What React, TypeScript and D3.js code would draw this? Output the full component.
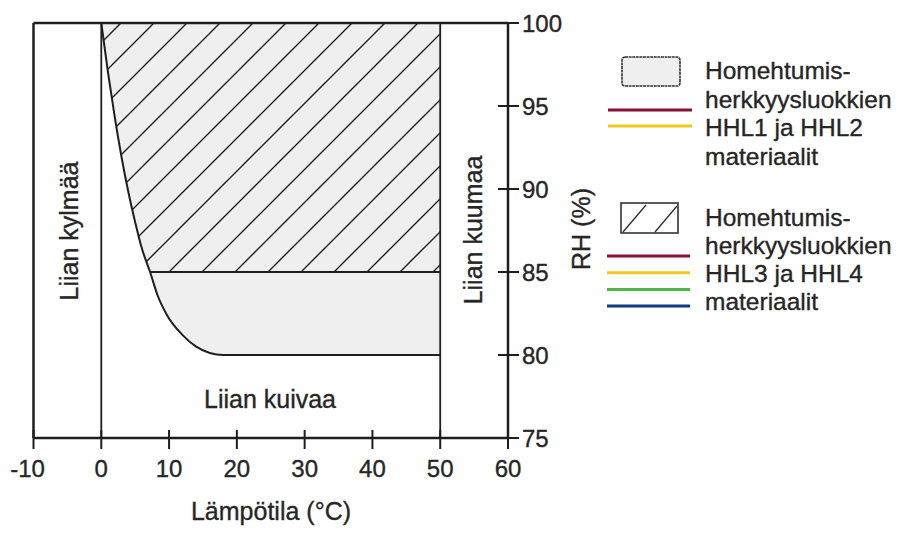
import React from "react";
import * as d3 from "d3";

const xTicks = [-10, 0, 10, 20, 30, 40, 50, 60];
const yTicks = [75, 80, 85, 90, 95, 100];
// critical RH curve (temperature °C, RH %)
const curveT = [0, 1, 2, 3, 4, 5, 6, 7.2, 8.3, 9.7, 12, 14, 16, 18, 50];
const curveRH = [100, 97, 94.3, 91.9, 89.8, 88, 86.4, 85, 83.6, 82.4, 81.2, 80.5, 80.12, 80, 80];
const tMin = 0;
const tMax = 50;
const rhSensitive = 85; // HHL3/HHL4 limit
const legendLines1 = ["#8a0f3a", "#f0c820"];
const legendLines2 = ["#8a0f3a", "#f0c820", "#4cb848", "#0c3a80"];
const legendText1 = ["Homehtumis-", "herkkyysluokkien", "HHL1 ja HHL2", "materiaalit"];
const legendText2 = ["Homehtumis-", "herkkyysluokkien", "HHL3 ja HHL4", "materiaalit"];

const FONT = "'Liberation Sans', Arial, sans-serif";
const INK = "#1e1e1e";
const TXT = "#262626";
const FILL = "#efefef";

export default function App() {
  const x = d3.scaleLinear().domain([-10, 60]).range([33.5, 508]);
  const y = d3.scaleLinear().domain([75, 100]).range([438, 23]);
  const pts: [number, number][] = curveT.map((t, i) => [t, curveRH[i]]);
  const line = d3
    .line<[number, number]>()
    .x((d) => x(d[0]))
    .y((d) => y(d[1]))
    .curve(d3.curveMonotoneX);
  const curvePath = line(pts) as string;
  const areaPath = curvePath + `L${x(tMax)},${y(100)}L${x(tMin)},${y(100)}Z`;
  const tp = { fill: TXT, stroke: TXT, strokeWidth: 0.35 };

  return (
    <svg width={915} height={533} style={{ position: "absolute", left: 0, top: 0, background: "#fff" }} fontFamily={FONT}>
      <defs>
        <pattern id="hatch" patternUnits="userSpaceOnUse" width={33} height={33} x={12} y={0}>
          <path d="M-1,34 L34,-1 M-9,9 L9,-9 M24,42 L42,24" stroke={INK} strokeWidth={1.4} />
        </pattern>
        <clipPath id="upper">
          <rect x={0} y={y(100)} width={915} height={y(rhSensitive) - y(100)} />
        </clipPath>
      </defs>
      <rect x={0} y={0} width={915} height={533} fill="#fff" />
      {/* grey region */}
      <path d={areaPath} fill={FILL} stroke="none" />
      <path d={areaPath} fill="url(#hatch)" stroke="none" clipPath="url(#upper)" />
      {/* curve */}
      <path d={curvePath} fill="none" stroke={INK} strokeWidth={2} />
      {/* 85% line */}
      <line x1={x(7.2)} x2={x(tMax)} y1={y(rhSensitive)} y2={y(rhSensitive)} stroke={INK} strokeWidth={2.2} />
      {/* 0 and 50 vertical lines */}
      {[tMin, tMax].map((t) => (
        <line key={t} x1={x(t)} x2={x(t)} y1={y(100)} y2={y(75)} stroke={INK} strokeWidth={1.8} />
      ))}
      {/* frame */}
      <line x1={x(-10)} x2={x(-10)} y1={y(100)} y2={y(75)} stroke={INK} strokeWidth={2.5} />
      <line x1={x(-10)} x2={x(60)} y1={y(100)} y2={y(100)} stroke={INK} strokeWidth={2.5} />
      <line x1={x(-10)} x2={x(60)} y1={y(75)} y2={y(75)} stroke={INK} strokeWidth={2.5} />
      <line x1={x(60)} x2={x(60)} y1={y(100)} y2={y(75)} stroke={INK} strokeWidth={2.5} />
      {/* x ticks */}
      {xTicks.map((t) => (
        <g key={t}>
          <line x1={x(t)} x2={x(t)} y1={y(75) - 8} y2={y(75) + 11} stroke={INK} strokeWidth={2} />
          <text x={x(t) - (t < 0 ? 6 : 0)} y={477} fontSize={24} textAnchor="middle" {...tp}>
            {t}
          </text>
        </g>
      ))}
      {/* y ticks */}
      {yTicks.map((v) => (
        <g key={v}>
          <line x1={x(60) - 10} x2={x(60) + 11} y1={y(v)} y2={y(v)} stroke={INK} strokeWidth={2} />
          <text x={522} y={y(v) + 9} fontSize={24} textAnchor="start" {...tp}>
            {v}
          </text>
        </g>
      ))}
      {/* region labels */}
      <text transform="translate(78,231) rotate(-90)" fontSize={25} textAnchor="middle" {...tp}>
        Liian kylmää
      </text>
      <text transform="translate(482,230) rotate(-90)" fontSize={25} textAnchor="middle" {...tp}>
        Liian kuumaa
      </text>
      <text x={270} y={408} fontSize={25} textAnchor="middle" {...tp}>
        Liian kuivaa
      </text>
      <text x={271} y={520} fontSize={25} textAnchor="middle" {...tp}>
        Lämpötila (°C)
      </text>
      <text transform="translate(590,229) rotate(-90)" fontSize={25} textAnchor="middle" {...tp}>
        RH (%)
      </text>
      {/* legend 1 */}
      <rect x={622} y={57} width={58} height={29} rx={3} fill={FILL} stroke="#333" strokeWidth={1.6} strokeDasharray="3 0.6" />
      {legendLines1.map((c, i) => (
        <line key={c + i} x1={608} x2={692} y1={110 + i * 16} y2={110 + i * 16} stroke={c} strokeWidth={3} />
      ))}
      {legendText1.map((s, i) => (
        <text key={i} x={705} y={79 + i * 28.5} fontSize={24.5} {...tp}>
          {s}
        </text>
      ))}
      {/* legend 2 */}
      <rect x={621} y={203} width={57} height={30} fill="#fff" stroke="#333" strokeWidth={1.6} />
      <line x1={623} y1={232} x2={646} y2={205} stroke="#333" strokeWidth={1.4} />
      <line x1={655} y1={232} x2={677} y2={206} stroke="#333" strokeWidth={1.4} />
      {legendLines2.map((c, i) => (
        <line key={c + i} x1={607} x2={690} y1={256 + i * 16.7} y2={256 + i * 16.7} stroke={c} strokeWidth={3} />
      ))}
      {legendText2.map((s, i) => (
        <text key={i} x={705} y={226 + i * 28} fontSize={24.5} {...tp}>
          {s}
        </text>
      ))}
    </svg>
  );
}
